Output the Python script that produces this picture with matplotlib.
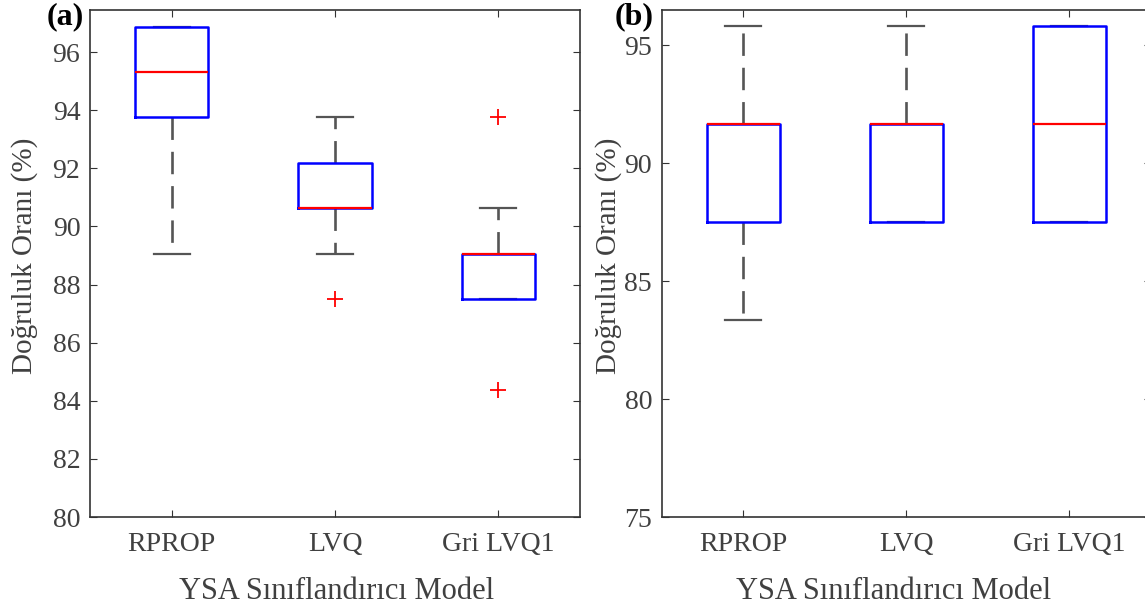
import matplotlib
matplotlib.use("Agg")
import matplotlib.pyplot as plt

# data
models = ['RPROP', 'LVQ', 'Gri LVQ1']

# panel (a)
a_q1 = [93.75, 90.625, 87.5]
a_med = [95.3125, 90.625, 89.0625]
a_q3 = [96.875, 92.1875, 89.0625]
a_wlo = [89.0625, 89.0625, 87.5]
a_whi = [96.875, 93.75, 90.625]
a_fliers = [[], [87.5], [93.75, 84.375]]

# panel (b)
b_q1 = [87.5, 87.5, 87.5]
b_med = [91.667, 91.667, 91.667]
b_q3 = [91.667, 91.667, 95.833]
b_wlo = [83.333, 87.5, 87.5]
b_whi = [95.833, 95.833, 95.833]
b_fliers = [[], [], []]

plt.rcParams['font.family'] = 'Liberation Serif'
txt_col = '#404040'


def make_stats(q1, med, q3, wlo, whi, fl):
    stats = []
    for i in range(len(q1)):
        stats.append(dict(q1=q1[i], med=med[i], q3=q3[i], whislo=wlo[i],
                          whishi=whi[i], fliers=fl[i], label=models[i]))
    return stats


def draw(ax, stats, ylim, yticks, tag, xlab_x, ylab_x, tag_x):
    ax.bxp(stats, positions=[1, 2, 3], widths=0.45, capwidths=0.22,
           boxprops=dict(color='blue', linewidth=1.8, zorder=2.2),
           medianprops=dict(color='red', linewidth=1.6, zorder=2.4),
           whiskerprops=dict(color='#555555', linewidth=1.9, linestyle=(0, (8.5, 4.5)),
                             zorder=1.8),
           capprops=dict(color='#555555', linewidth=1.6, zorder=1.8),
           flierprops=dict(marker='+', markeredgecolor='red', markersize=12,
                           markeredgewidth=1.3, linestyle='none'))
    ax.set_xlim(0.5, 3.5)
    ax.set_ylim(ylim)
    ax.set_yticks(yticks)
    ax.set_xticks([1, 2, 3])
    ax.set_xticklabels(models)
    ax.tick_params(direction='in', length=5, top=True, right=True,
                   labelsize=20, colors='#333333', labelcolor=txt_col)
    ax.tick_params(axis='y', pad=7)
    ax.tick_params(axis='x', pad=11)
    for s in ax.spines.values():
        s.set_color('#333333')
        s.set_linewidth(1.2)
    ax.set_xlabel('YSA Sınıflandırıcı Model', fontsize=22, color=txt_col)
    ax.set_ylabel('Doğruluk Oranı (%)', fontsize=21, color=txt_col)
    ax.xaxis.set_label_coords(xlab_x, -0.118)
    ax.yaxis.set_label_coords(ylab_x, 0.515)
    ax.text(tag_x, 0.986, tag, transform=ax.transAxes, fontsize=23,
            fontweight='bold', ha='center', va='center')


fig = plt.figure(figsize=(11.45, 6.11), dpi=100)
ax1 = fig.add_axes([0.0786, 0.1538, 0.428, 0.83])
ax2 = fig.add_axes([0.578, 0.1538, 0.427, 0.83])

draw(ax1, make_stats(a_q1, a_med, a_q3, a_wlo, a_whi, a_fliers),
     (80, 97.45), [80, 82, 84, 86, 88, 90, 92, 94, 96], '(a)',
     0.504, -0.106, -0.051)
draw(ax2, make_stats(b_q1, b_med, b_q3, b_wlo, b_whi, b_fliers),
     (75, 96.5), [75, 80, 85, 90, 95], '(b)',
     0.474, -0.082, -0.057)

fig.savefig('out.png', dpi=100)
